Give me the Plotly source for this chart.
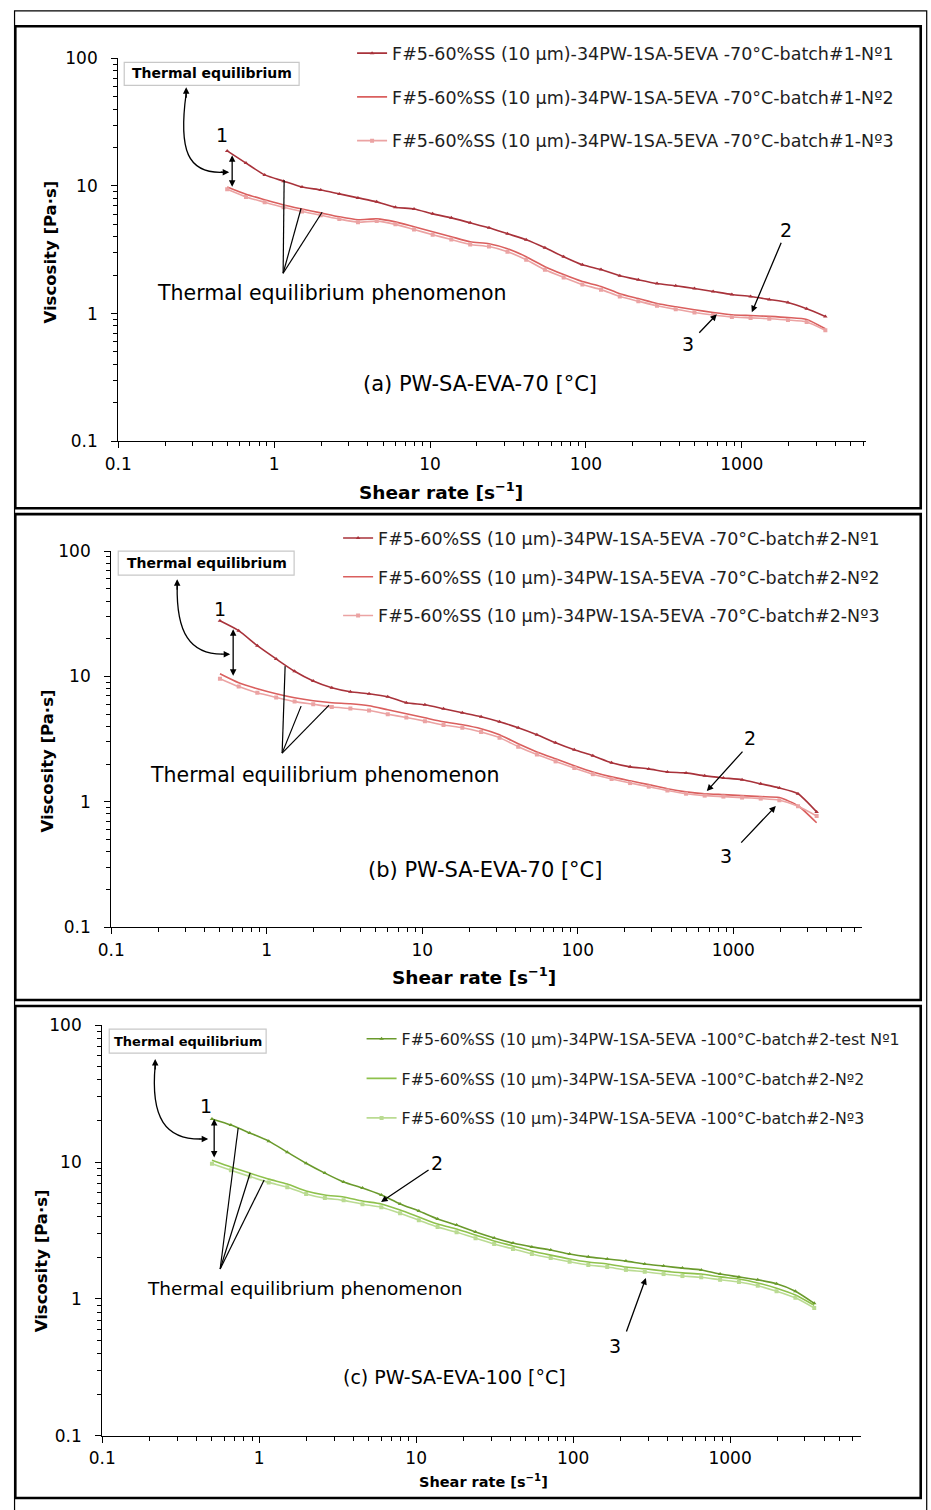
import math
import plotly.graph_objects as go

W, H = 931, 1510

# Shear rate grid [1/s] shared by all measurements
shear_rate = [0.5, 0.66, 0.87, 1.15, 1.51, 1.99, 2.62, 3.45, 4.55, 6.0, 7.9,
              10.4, 13.7, 18.1, 23.9, 31.4, 41.4, 54.6, 72.0, 95.0, 125, 165,
              217, 286, 377, 497, 655, 864, 1139, 1501, 1978, 2607, 3436]

# (a) 70 degC, batch #1  - viscosity [Pa.s]
visc_a1 = [18.8, 15.1, 12.2, 10.9, 9.8, 9.3, 8.66, 8.06, 7.5, 6.8, 6.6, 6.04,
           5.62, 5.14, 4.7, 4.22, 3.79, 3.28, 2.79, 2.41, 2.21, 1.98, 1.84,
           1.72, 1.65, 1.57, 1.49, 1.41, 1.36, 1.29, 1.22, 1.09, 0.95]
visc_a2 = [9.8, 8.6, 7.8, 7.1, 6.6, 6.15, 5.73, 5.43, 5.52, 5.23, 4.78, 4.37,
           4.0, 3.65, 3.52, 3.22, 2.79, 2.33, 2.02, 1.78, 1.63, 1.43, 1.31,
           1.2, 1.13, 1.07, 1.02, 0.98, 0.965, 0.95, 0.93, 0.9, 0.76]
visc_a3 = [9.4, 8.2, 7.45, 6.8, 6.3, 5.9, 5.5, 5.2, 5.3, 5.0, 4.55, 4.15,
           3.8, 3.48, 3.35, 3.05, 2.64, 2.2, 1.92, 1.69, 1.54, 1.36, 1.25,
           1.15, 1.08, 1.02, 0.975, 0.94, 0.925, 0.91, 0.89, 0.86, 0.74]

# (b) 70 degC, batch #2
visc_b1 = [27.8, 23.2, 17.6, 13.8, 11.0, 9.2, 8.13, 7.55, 7.28, 6.89, 6.17,
           5.94, 5.52, 5.13, 4.77, 4.35, 3.9, 3.43, 2.96, 2.6, 2.33, 2.05,
           1.9, 1.83, 1.73, 1.7, 1.61, 1.55, 1.5, 1.39, 1.29, 1.16, 0.83]
visc_b2 = [10.5, 8.9, 7.98, 7.28, 6.76, 6.4, 6.17, 6.06, 5.84, 5.42, 5.04,
           4.68, 4.35, 4.12, 3.83, 3.43, 2.9, 2.5, 2.2, 1.94, 1.73, 1.58,
           1.47, 1.37, 1.27, 1.2, 1.16, 1.14, 1.12, 1.1, 1.08, 0.93, 0.68]
visc_b3 = [9.6, 8.3, 7.4, 6.8, 6.3, 6.0, 5.7, 5.55, 5.35, 5.0, 4.7, 4.4, 4.1,
           3.9, 3.6, 3.25, 2.75, 2.38, 2.1, 1.86, 1.66, 1.52, 1.41, 1.32,
           1.23, 1.16, 1.12, 1.1, 1.08, 1.06, 1.03, 0.92, 0.77]

# (c) 100 degC, batch #2
visc_c1 = [20.6, 18.6, 16.3, 14.2, 11.8, 9.8, 8.3, 7.15, 6.46, 5.74, 4.94,
           4.39, 3.84, 3.47, 3.08, 2.79, 2.56, 2.4, 2.28, 2.13, 2.03, 1.96,
           1.89, 1.8, 1.74, 1.68, 1.63, 1.52, 1.45, 1.38, 1.29, 1.14, 0.93]
visc_c2 = [10.3, 9.2, 8.3, 7.5, 6.91, 6.14, 5.74, 5.55, 5.19, 4.94, 4.46,
           3.97, 3.53, 3.24, 2.93, 2.65, 2.44, 2.24, 2.09, 1.96, 1.86, 1.8,
           1.71, 1.66, 1.6, 1.55, 1.52, 1.45, 1.4, 1.31, 1.2, 1.07, 0.9]
visc_c3 = [9.7, 8.7, 7.85, 7.1, 6.55, 5.85, 5.45, 5.25, 4.92, 4.68, 4.22,
           3.76, 3.35, 3.07, 2.78, 2.52, 2.32, 2.13, 1.99, 1.87, 1.77, 1.71,
           1.63, 1.58, 1.52, 1.47, 1.44, 1.38, 1.33, 1.25, 1.14, 1.02, 0.86]

names_a = ["F#5-60%SS (10 μm)-34PW-1SA-5EVA -70°C-batch#1-Nº1",
           "F#5-60%SS (10 μm)-34PW-1SA-5EVA -70°C-batch#1-Nº2",
           "F#5-60%SS (10 μm)-34PW-1SA-5EVA -70°C-batch#1-Nº3"]
names_b = ["F#5-60%SS (10 μm)-34PW-1SA-5EVA -70°C-batch#2-Nº1",
           "F#5-60%SS (10 μm)-34PW-1SA-5EVA -70°C-batch#2-Nº2",
           "F#5-60%SS (10 μm)-34PW-1SA-5EVA -70°C-batch#2-Nº3"]
names_c = ["F#5-60%SS (10 μm)-34PW-1SA-5EVA -100°C-batch#2-test Nº1",
           "F#5-60%SS (10 μm)-34PW-1SA-5EVA -100°C-batch#2-Nº2",
           "F#5-60%SS (10 μm)-34PW-1SA-5EVA -100°C-batch#2-Nº3"]

x_ticks = [0.1, 1, 10, 100, 1000]
x_ticktext = ["0.1", "1", "10", "100", "1000"]
y_ticks = [0.1, 1, 10, 100]
y_ticktext = ["0.1", "1", "10", "100"]

FONT = "DejaVu Sans"
reds = ["#A8323A", "#DA5F5E", "#EBA3A3"]
greens = ["#6A9A2C", "#8EC14C", "#BADB92"]

# pixel -> paper conversion (page origin and scale of the rendered figure)
OX, SX = 13.7, 0.9856
OY, SY = 8.7, 0.987


def P(px):
    return ((px - OX) / SX) / W


def Q(py):
    return 1 - ((py - OY) / SY) / H


fig = go.Figure()

panels = [
    dict(xa="x", ya="y", leg="legend", data=[visc_a1, visc_a2, visc_a3],
         names=names_a, colors=reds),
    dict(xa="x2", ya="y2", leg="legend2", data=[visc_b1, visc_b2, visc_b3],
         names=names_b, colors=reds),
    dict(xa="x3", ya="y3", leg="legend3", data=[visc_c1, visc_c2, visc_c3],
         names=names_c, colors=greens),
]

for p in panels:
    for k, (vals, nm, col) in enumerate(zip(p["data"], p["names"], p["colors"])):
        if k == 0:
            mk = dict(symbol="triangle-up", size=4, color=col)
            mode = "lines+markers"
        elif k == 1:
            mk = None
            mode = "lines"
        else:
            mk = dict(symbol="square", size=4, color=col)
            mode = "lines+markers"
        fig.add_trace(go.Scatter(
            x=shear_rate, y=vals, name=nm, mode=mode, marker=mk,
            line=dict(color=col, width=1.6, shape="spline", smoothing=0.6),
            xaxis=p["xa"], yaxis=p["ya"], legend=p["leg"],
            legendgroup=p["leg"] + str(k),
        ))

minor_x = [m * 10 ** e for e in range(-1, 4) for m in range(2, 10)]
minor_y = [m * 10 ** e for e in range(-1, 2) for m in range(2, 10)]

axis_common = dict(type="log", showline=True, linecolor="black", linewidth=1.2,
                   ticks="outside", ticklen=6, tickcolor="black", tickwidth=1.2,
                   showgrid=False, zeroline=False,
                   tickfont=dict(family=FONT, size=17, color="black"))

# pixel placement of each plotting area: (x_left, x_right, y_top, y_bottom, x_max)
areas = [(118, 866, 57, 440, 6240), (111, 862, 550, 926, 6700),
         (102, 861, 1024, 1435, 6800)]
layout_axes = {}
for i, (xl, xr, yt, yb, xmax) in enumerate(areas):
    sfx = "" if i == 0 else str(i + 1)
    layout_axes["xaxis" + sfx] = dict(
        axis_common, domain=[P(xl), P(xr)], anchor="y" + sfx,
        range=[-1, math.log10(xmax)], tickvals=x_ticks, ticktext=x_ticktext,
        ticklabelstandoff=1,
        minor=dict(tickvals=[v for v in minor_x if v < xmax], ticks="outside",
                   ticklen=4, tickcolor="black", tickwidth=1))
    layout_axes["yaxis" + sfx] = dict(
        axis_common, domain=[Q(yb), Q(yt)], anchor="x" + sfx,
        range=[-1, 2], tickvals=y_ticks, ticktext=y_ticktext,
        ticklabelstandoff=10,
        minor=dict(tickvals=minor_y, ticks="outside", ticklen=4,
                   tickcolor="black", tickwidth=1))

legends = {}
for key, (lx, ly, gap, fs) in {"legend": (352, 34, 18, 17.5),
                               "legend2": (338, 519, 13, 17.5),
                               "legend3": (361.5, 1021, 16, 15.8)}.items():
    legends[key] = dict(x=P(lx), y=Q(ly), xanchor="left", yanchor="top",
                        bgcolor="rgba(0,0,0,0)", borderwidth=0,
                        tracegroupgap=gap, traceorder="grouped",
                        font=dict(family=FONT, size=fs, color="#1E1E1E"))

shapes = []
annotations = []

# outer frame (open at the bottom edge) and panel frames
shapes.append(dict(type="rect", xref="paper", yref="paper", x0=0.0006,
                   x1=P(927), y0=-0.02, y1=0.9994,
                   line=dict(color="black", width=1.2)))
for (t, b) in [(25, 507), (513, 999), (1005, 1497)]:
    shapes.append(dict(type="rect", xref="paper", yref="paper", x0=P(15),
                       x1=P(921), y0=Q(b), y1=Q(t),
                       line=dict(color="black", width=2.6)))


def text(x, y, s, size=17, bold=False, angle=0, color="black"):
    annotations.append(dict(
        xref="paper", yref="paper", x=P(x), y=Q(y), text=s, showarrow=False,
        textangle=angle, xanchor="center", yanchor="middle",
        font=dict(family=FONT, size=size, color=color,
                  weight="bold" if bold else "normal")))


def arrow(hx, hy, tx, ty, both=False, head=2):
    annotations.append(dict(
        xref="paper", yref="paper", x=P(hx), y=Q(hy), ax=tx - hx, ay=ty - hy,
        text="", showarrow=True, arrowhead=head, arrowsize=1, arrowwidth=1.3,
        arrowcolor="black", arrowside="end+start" if both else "end",
        startarrowhead=head))


def line(x0, y0, x1, y1):
    shapes.append(dict(type="line", xref="paper", yref="paper", x0=P(x0),
                       y0=Q(y0), x1=P(x1), y1=Q(y1),
                       line=dict(color="black", width=1.2)))


def curve(pts):
    (x0, y0), (c1x, c1y), (c2x, c2y), (x1, y1) = pts
    path = (f"M {P(x0)},{Q(y0)} C {P(c1x)},{Q(c1y)} {P(c2x)},{Q(c2y)} "
            f"{P(x1)},{Q(y1)}")
    shapes.append(dict(type="path", xref="paper", yref="paper", path=path,
                       line=dict(color="black", width=1.3)))


def box(x0, y0, x1, y1):
    shapes.append(dict(type="rect", xref="paper", yref="paper", x0=P(x0),
                       x1=P(x1), y0=Q(y1), y1=Q(y0), fillcolor="white",
                       line=dict(color="#C8C8C8", width=1.2)))


LBL = 19
# ---- panel (a)
box(124, 61, 299, 84)
text(212, 72, "Thermal equilibrium", 14, bold=True)
curve([(186, 92), (178, 150), (188, 172), (222, 171)])
arrow(186, 86, 186, 98)
arrow(229, 171, 219, 171)
arrow(232, 154, 232, 187, both=True)
text(222, 134, "1", LBL)
line(283, 272, 284, 179)
line(283, 272, 301, 207)
line(283, 272, 322, 211)
text(332, 292, "Thermal equilibrium phenomenon", 20.5)
arrow(752, 311, 782, 240)
text(786, 229, "2", LBL)
arrow(717, 313, 698, 333)
text(688, 343, "3", LBL)
text(480, 383, "(a) PW-SA-EVA-70 [°C]", 21)
text(441, 490, "Shear rate [s<sup>−1</sup>]", 18.5, bold=True)
text(50, 251, "Viscosity [Pa·s]", 16.5, bold=True, angle=-90)

# ---- panel (b)
box(118, 550, 294, 574)
text(207, 562, "Thermal equilibrium", 14, bold=True)
curve([(177, 584), (176, 632), (190, 653), (222, 653)])
arrow(177, 578, 177, 590)
arrow(230, 653, 220, 653)
arrow(233, 628, 233, 676, both=True)
text(220, 608, "1", LBL)
line(282, 752, 285, 665)
line(282, 752, 301, 705)
line(282, 752, 329, 704)
text(325, 774, "Thermal equilibrium phenomenon", 20.5)
arrow(707, 790, 744, 749)
text(750, 737, "2", LBL)
arrow(776, 805, 740, 843)
text(726, 855, "3", LBL)
text(485, 869, "(b) PW-SA-EVA-70 [°C]", 21)
text(474, 975, "Shear rate [s<sup>−1</sup>]", 18.5, bold=True)
text(47, 760, "Viscosity [Pa·s]", 16.5, bold=True, angle=-90)

# ---- panel (c)
box(109, 1028, 266, 1052)
text(188, 1040, "Thermal equilibrium", 13, bold=True)
curve([(155, 1064), (150, 1118), (166, 1138), (200, 1138)])
arrow(155, 1058, 155, 1070)
arrow(208, 1138, 198, 1138)
arrow(214, 1118, 214, 1158, both=True)
text(206, 1105, "1", LBL)
line(220, 1268, 238, 1127)
line(220, 1268, 250, 1172)
line(220, 1268, 264, 1179)
text(305, 1288, "Thermal equilibrium phenomenon", 18.5)
arrow(381, 1201, 430, 1168)
text(437, 1162, "2", LBL)
arrow(646, 1277, 626, 1332)
text(615, 1345, "3", LBL)
text(454, 1376, "(c) PW-SA-EVA-100 [°C]", 19)
text(484, 1480, "Shear rate [s<sup>−1</sup>]", 14.5, bold=True)
text(42, 1260, "Viscosity [Pa·s]", 16.5, bold=True, angle=-90)

fig.update_layout(
    width=W, height=H, margin=dict(l=0, r=0, t=0, b=0),
    paper_bgcolor="white", plot_bgcolor="white",
    font=dict(family=FONT, color="black"),
    showlegend=True, shapes=shapes, annotations=annotations,
    **layout_axes, **legends,
)

fig.write_html("out.html")
